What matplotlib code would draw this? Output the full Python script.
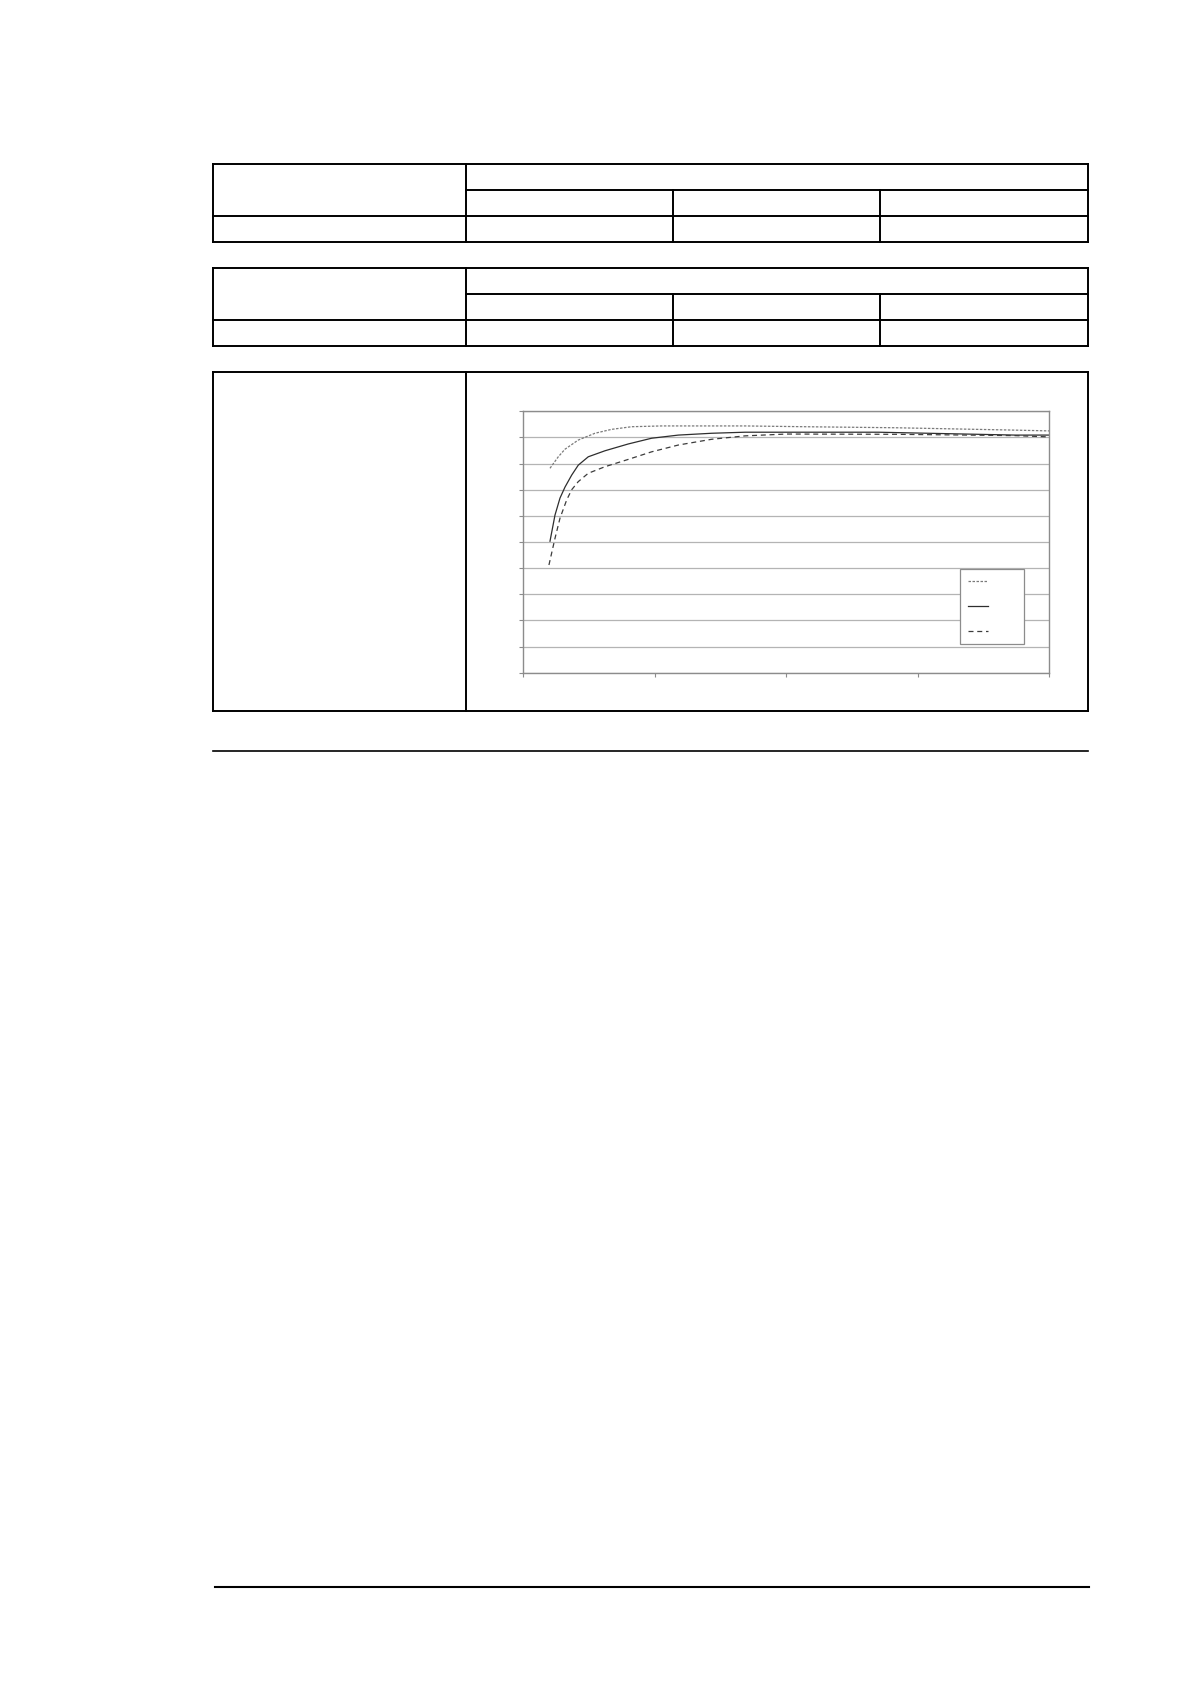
import matplotlib
matplotlib.use('Agg')
import matplotlib.pyplot as plt
from matplotlib.lines import Line2D

W, H = 1190, 1684

# curve data (x in tick units 0..4, y in grid units 0..10)
dotted_x = [0.203, 0.266, 0.317, 0.418, 0.545, 0.672, 0.824, 1.05, 1.686, 2.14, 2.84, 3.74, 4.0]
dotted_y = [7.82, 8.26, 8.55, 8.90, 9.16, 9.31, 9.41, 9.44, 9.44, 9.41, 9.37, 9.28, 9.25]

solid_x = [0.203, 0.241, 0.279, 0.317, 0.368, 0.418, 0.494, 0.621, 0.798, 0.976,
           1.179, 1.433, 1.686, 2.70, 3.74, 4.0]
solid_y = [5.03, 6.03, 6.68, 7.10, 7.56, 7.94, 8.26, 8.49, 8.75, 8.97,
           9.09, 9.16, 9.20, 9.20, 9.09, 9.09]

dashed_x = [0.195, 0.241, 0.279, 0.330, 0.368, 0.418, 0.494, 0.621, 0.798, 0.976,
            1.179, 1.433, 1.686, 2.0, 2.84, 3.74, 4.0]
dashed_y = [4.12, 5.14, 5.91, 6.61, 7.00, 7.31, 7.63, 7.88, 8.16, 8.45,
            8.71, 8.93, 9.06, 9.13, 9.12, 9.07, 9.02]

x_ticks = [0, 1, 2, 3, 4]
y_ticks = list(range(0, 11))

fig = plt.figure(figsize=(W / 100, H / 100), dpi=100)


def line(x0, y0, x1, y1, lw=1.4):
    fig.add_artist(Line2D([x0 / W, x1 / W], [1 - y0 / H, 1 - y1 / H],
                          color='black', lw=lw, transform=fig.transFigure))


def box(x0, y0, x1, y1, lw=1.4):
    line(x0, y0, x1, y0, lw)
    line(x0, y1, x1, y1, lw)
    line(x0, y0, x0, y1, lw)
    line(x1, y0, x1, y1, lw)


L, R = 212.5, 1088.3
c1, c2, c3 = 466.3, 673.2, 880.3

# two small tables
for top in (164.3, 268.3):
    r1, r2, bot = top + 26, top + 52, top + 78
    box(L, top, R, bot)
    line(c1, top, c1, bot)
    line(c1, r1, R, r1)
    line(L, r2, R, r2)
    line(c2, r1, c2, bot)
    line(c3, r1, c3, bot)

# table holding the chart
box(L, 372.3, R, 711)
line(c1, 372.3, c1, 711)

# page rules
line(213, 751, R, 751, lw=1.2)
line(215, 1587.3, 1089, 1587.3, lw=1.5)

ax = fig.add_axes([523.3 / W, 1 - 672.7 / H, 526 / W, 261.4 / H])
ax.plot(dotted_x, dotted_y, color='#7a7a7a', lw=0.9, ls=(0, (2, 1.2)), label=' ')
ax.plot(solid_x, solid_y, color='#2e2e2e', lw=0.9, ls='-', label=' ')
ax.plot(dashed_x, dashed_y, color='#3c3c3c', lw=0.9, ls=(0, (4, 3)), label=' ')

ax.set_xlim(0, 4)
ax.set_ylim(0, 10)
ax.set_xticks(x_ticks)
ax.set_yticks(y_ticks)
ax.tick_params(length=3, width=0.8, color='#8c8c8c', labelleft=False, labelbottom=False)
ax.yaxis.grid(True, color='#b4b4b4', lw=0.9)
ax.set_axisbelow(True)
for s in ax.spines.values():
    s.set_color('#8c8c8c')
    s.set_linewidth(1.0)

leg = ax.legend(loc='upper left', bbox_to_anchor=((960.3 - 523.3) / 526, (672.7 - 569.3) / 261.4),
                borderaxespad=0, fontsize=7, handlelength=2.06, handletextpad=2.7,
                labelspacing=1.53, borderpad=0.756, fancybox=False, framealpha=1,
                edgecolor='#8c8c8c')
leg.get_frame().set_linewidth(0.9)

fig.savefig('out.png', dpi=100)
